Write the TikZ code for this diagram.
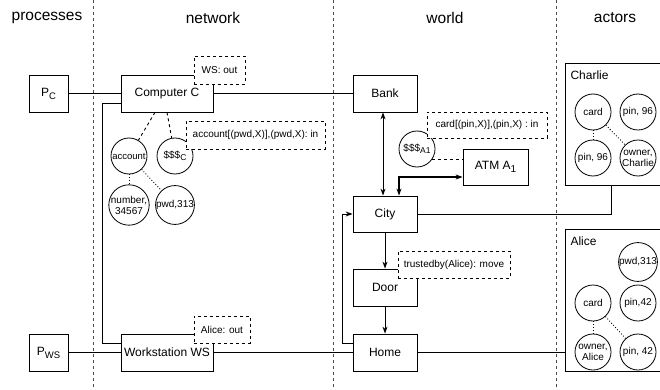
\documentclass[tikz,border=0pt]{standalone}
\usepackage{fontspec}
\setmainfont{Liberation Sans}
\usetikzlibrary{arrows.meta,positioning}

\newcommand\lsub[2]{\raisebox{-0.45ex}{\fontsize{#1}{#1}\selectfont #2}}

\tikzset{
	header/.style={font=\fontsize{15.5}{18}\selectfont},
	divider/.style={dashed,draw=black!70,line width=0.8pt},
	box/.style={draw,fill=white,line width=0.8pt,font=\fontsize{12}{14}\selectfont},
	tag/.style={draw,dashed,fill=white,line width=0.8pt,font=\fontsize{10}{12}\selectfont},
	item/.style={draw,circle,fill=white,line width=0.8pt,minimum size=36pt,inner sep=0pt,
		align=center,font=\fontsize{10}{11}\selectfont},
	actor/.style={draw,line width=0.8pt},
	link/.style={line width=0.9pt},
	>={Stealth[length=7pt,width=5pt]},
}

\begin{document}
\begin{tikzpicture}[x=1pt,y=-1pt]
\useasboundingbox (0,0) rectangle (660,390);

%Headers
\node [header]  (hproc)at (47,18) {processes};
\node [header]  (hnet)at (213,18) {network};
\node [header]  (hworld)at (445,18) {world};
\node [header]  (hact)at (615,18) {actors};

%Dividers
\draw [divider] (93,0) -- (93,390);
\draw [divider] (333,0) -- (333,390);
\draw [divider] (556,0) -- (556,390);

%Processes
\node [box,
	minimum width=39pt,
	minimum height=37pt,
]  (pc)at (48.5,93.5) {P\lsub{9.5}{C}};
\node [box,
	minimum width=39pt,
	minimum height=37pt,
]  (pws)at (48.5,352.5) {P\lsub{9.5}{WS}};

%Network
\node [box,
	minimum width=92pt,
	minimum height=37pt,
]  (cc)at (167,93.5) {Computer C};
\node [box,
	minimum width=92pt,
	minimum height=37pt,
	inner sep=1pt,
]  (ws)at (167,352.5) {Workstation WS};

\node [item]  (acct)at (129,156) {\fontsize{9.5}{11}\selectfont account};
\node [item]  (sssc)at (175,156) {\$\$\$\lsub{8.5}{C}};
\node [item]  (num)at (129,205) {number,\\34567};
\node [item]  (pwdc)at (175,205) {pwd,313};

\draw [dashed,link] ([xshift=-12pt]cc.south) -- (acct);
\draw [dashed,link] (cc.south) -- (sssc);
\draw [dotted,link] (acct) -- (num);
\draw [dotted,link] (acct) -- (pwdc);

%World
\node [box,
	minimum width=64pt,
	minimum height=37pt,
]  (bank)at (385,93.5) {Bank};
\node [item]  (sssa)at (417,149) {\$\$\$\lsub{8.5}{A1}};
\node [box,
	minimum width=65pt,
	minimum height=36pt,
]  (atm)at (495.5,167) {ATM A\lsub{10}{1}};
\node [box,
	minimum width=64pt,
	minimum height=36pt,
]  (city)at (385,214) {City};
\node [box,
	minimum width=64pt,
	minimum height=37pt,
]  (door)at (385,287.5) {Door};
\node [box,
	minimum width=64pt,
	minimum height=37pt,
]  (home)at (385,352.5) {Home};

%Actors
\node [actor,
	minimum width=105pt,
	minimum height=122pt,
]  (charlie)at (617.5,124) {};
\node [anchor=west,font=\fontsize{12}{14}\selectfont]  (charlietext)at (567,75) {Charlie};
\node [item]  (ccard)at (593,112) {card};
\node [item]  (cpin)at (638,112) {pin, 96};
\node [item]  (cpinb)at (593,158) {pin, 96};
\node [item]  (cowner)at (638,158) {owner,\\Charlie};
\draw [dotted,link] (ccard) -- (cpinb);
\draw [dotted,link] (ccard) -- (cowner);

\node [actor,
	minimum width=105pt,
	minimum height=142pt,
]  (alice)at (617.5,300) {};
\node [anchor=west,font=\fontsize{12}{14}\selectfont]  (alicetext)at (567,241) {Alice};
\node [item]  (apwd)at (638,262) {pwd,313};
\node [item]  (acard)at (593,303) {card};
\node [item]  (apin)at (638,303) {pin,42};
\node [item]  (aowner)at (593,352) {owner,\\Alice};
\node [item]  (apinb)at (638,352) {pin, 42};
\draw [dotted,link] (acard) -- (aowner);
\draw [dotted,link] (acard) -- (apinb);

%Connections
\draw [link] (pc.east) -- (cc.west);
\draw [link] (pws.east) -- (ws.west);
\draw [link] (cc.east) -- (bank.west);
\draw [link] ([yshift=-9.5pt]cc.west) -- ++(-18,0) |- ([yshift=9.5pt]ws.west);
\draw [link] (ws.east) -- (home.west);
\draw [link,<->] ([xshift=-2pt]bank.south) -- ([xshift=-2pt]city.north);
\draw [line width=1.4pt,<->] ([yshift=-10pt]atm.west) -| ([xshift=14pt]city.north);
\draw [dashed,link] (sssa.-34) -- (sssa.-34 -| atm.west);
\draw [link,->] (city.south) -- (door.north);
\draw [link,->] (door.south) -- (home.north);
\draw [link,->] ([yshift=9.5pt]home.west) -- ++(-10,0) |- (city.west);
\draw [link] (city.east) -| ([xshift=-6.5pt]charlie.south);
\draw [link] (home.east) -- (home.east -| alice.west);

%Tags
\node [tag,
	minimum width=51pt,
	minimum height=28pt,
]  (wsout)at (219.5,70) {WS: out};
\node [tag,
	minimum width=139pt,
	minimum height=28pt,
]  (accin)at (255.5,135) {account[(pwd,X)],(pwd,X): in};
\node [tag,
	minimum width=56pt,
	minimum height=27pt,
]  (aliceout)at (222,329.5) {Alice: out};
\node [tag,
	minimum width=120pt,
	minimum height=26pt,
]  (cardin)at (487,125) {card[(pin,X)],(pin,X) : in};
\node [tag,
	minimum width=112pt,
	minimum height=27pt,
]  (move)at (454,264.5) {trustedby(Alice): move};

\end{tikzpicture}
\end{document}
